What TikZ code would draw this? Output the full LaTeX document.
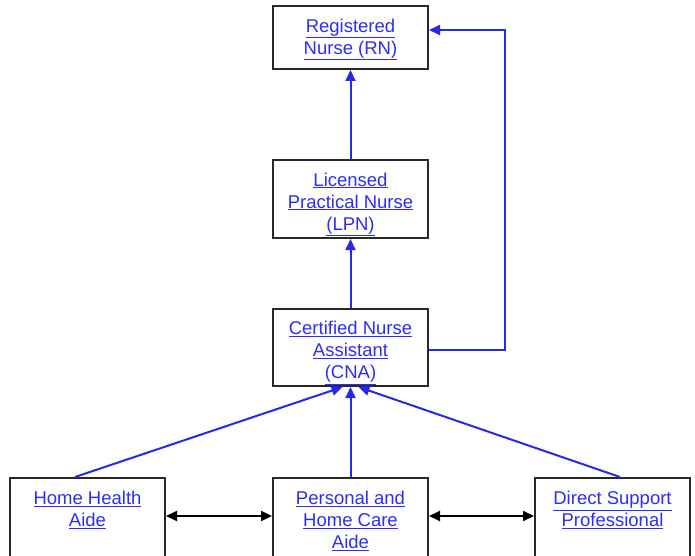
\documentclass[tikz,border=0pt]{standalone}
\usepackage{fontspec}
\setmainfont{Liberation Sans}
\usetikzlibrary{arrows.meta,calc}
\definecolor{linkblue}{RGB}{45,45,250}
\definecolor{lineblue}{RGB}{40,40,235}
\definecolor{boxline}{RGB}{40,40,40}
\newcommand{\lk}[1]{\underline{#1}}
\newcommand{\tp}{\rule{0pt}{24pt}}
\tikzset{
  box/.style={draw=boxline, line width=2pt, fill=white, minimum width=155pt, inner sep=0pt,
    align=center, text=linkblue, font=\fontsize{18.5}{22}\selectfont},
  upar/.style={draw=lineblue, line width=2pt, -{Triangle[length=11pt,width=10pt]}},
  dbl/.style={draw=black, line width=2pt, {Triangle[length=11pt,width=10pt]}-{Triangle[length=11pt,width=10pt]}}
}
\begin{document}
\begin{tikzpicture}[x=1pt,y=-1pt]
\useasboundingbox (0,0) rectangle (695,556);
\node[box, minimum height=63pt] (rn) at (350.5,37.5) {\rule{0pt}{17pt}\lk{Registered}\\\lk{Nurse (RN)}};
\node[box, minimum height=78pt] (lpn) at (350.5,199) {\tp\lk{Licensed}\\\lk{Practical Nurse}\\\lk{(LPN)}};
\node[box, minimum height=77pt] (cna) at (350.5,347.5) {\tp\lk{Certified Nurse}\\\lk{Assistant}\\\lk{(CNA)}};
\node[box, minimum height=80pt] (hha) at (87.5,518) {\tp\lk{Home Health}\\\lk{Aide}\\\strut};
\node[box, minimum height=80pt] (phc) at (350.5,518) {\rule{0pt}{20pt}\lk{Personal and}\\\lk{Home Care}\\\lk{Aide}};
\node[box, minimum height=80pt] (dsp) at (612.5,518) {\tp\lk{Direct Support}\\\lk{Professional}\\\strut};
\draw[upar] (lpn.north) -- (rn.south);
\draw[upar] (cna.north) -- (lpn.south);
\draw[upar] ([yshift=-2.5pt]cna.east) -| (505,30) -- ([yshift=7.5pt]rn.east);
\draw[upar] ([xshift=-12.5pt]hha.north) -- ([xshift=-8pt]cna.south);
\draw[upar] (phc.north) -- (cna.south);
\draw[upar] ([xshift=7.5pt]dsp.north) -- ([xshift=8pt]cna.south);
\draw[dbl] ([yshift=2pt]hha.east) -- ([yshift=2pt]phc.west);
\draw[dbl] ([yshift=2pt]phc.east) -- ([yshift=2pt]dsp.west);
\end{tikzpicture}
\end{document}
